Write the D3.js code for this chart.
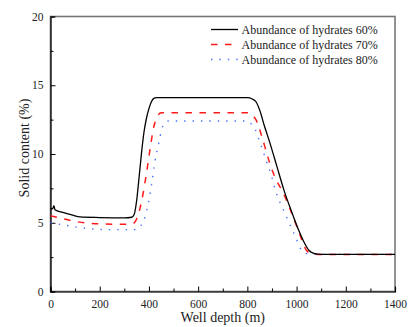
<!DOCTYPE html>
<html>
<head>
<meta charset="utf-8">
<script src="https://cdn.jsdelivr.net/npm/d3@7"></script>
<style>
  body { margin: 0; background: #fff; }
  svg text { font-family: "Times New Roman", "Liberation Serif", Times, serif !important; fill: #222; }
</style>
</head>
<body>
<div id="chart"></div>
<script>
// depth (m) / solid content (%)
const depth60 = [0, 10, 14, 18, 50, 90, 120, 200, 300, 330, 340, 350, 360, 370, 380, 390, 400, 410, 420, 430, 800, 820, 835, 850, 870, 890, 920, 950, 980, 1010, 1030, 1050, 1070, 1100, 1400];
const solid60 = [6.0, 6.05, 6.25, 5.95, 5.75, 5.55, 5.42, 5.38, 5.36, 5.4, 5.6, 6.6, 8.3, 10.1, 11.6, 12.6, 13.3, 13.8, 14.05, 14.1, 14.1, 14.0, 13.8, 13.2, 12.0, 10.9, 9.1, 7.3, 5.8, 4.4, 3.6, 3.0, 2.78, 2.7, 2.7];

const depth70 = [0, 50, 100, 150, 250, 330, 345, 360, 375, 390, 405, 420, 435, 450, 800, 820, 840, 860, 890, 910, 945, 980, 1010, 1040, 1060, 1090, 1400];
const solid70 = [5.5, 5.3, 5.1, 4.97, 4.9, 4.9, 5.1, 5.8, 7.0, 8.6, 10.4, 12.0, 12.75, 13.0, 13.0, 12.85, 12.3, 11.2, 9.4, 8.4, 7.2, 5.7, 4.3, 3.0, 2.75, 2.7, 2.7];

const depth80 = [0, 50, 100, 150, 250, 350, 365, 380, 395, 410, 425, 440, 452, 465, 480, 800, 815, 830, 850, 875, 898, 915, 950, 990, 1025, 1050, 1080, 1400];
const solid80 = [5.0, 4.85, 4.7, 4.58, 4.5, 4.5, 4.75, 5.2, 6.2, 7.7, 9.5, 10.8, 11.8, 12.25, 12.4, 12.4, 12.2, 11.85, 10.9, 9.6, 8.4, 7.3, 5.8, 4.2, 2.9, 2.72, 2.7, 2.7];

const seriesNames = ["Abundance of hydrates 60%", "Abundance of hydrates 70%", "Abundance of hydrates 80%"];
const xTicks = [0, 200, 400, 600, 800, 1000, 1200, 1400];
const yTicks = [0, 5, 10, 15, 20];

const width = 413, height = 327;
const margin = { left: 50.5, right: 18, top: 16.5, bottom: 35.5 };

const svg = d3.select("#chart").append("svg")
  .attr("width", width)
  .attr("height", height);

const x = d3.scaleLinear().domain([0, 1400]).range([margin.left, width - margin.right]);
const y = d3.scaleLinear().domain([0, 20]).range([height - margin.bottom, margin.top]);

// frame (top / right)
svg.append("rect")
  .attr("x", x(0)).attr("y", y(20))
  .attr("width", x(1400) - x(0)).attr("height", y(0) - y(20))
  .attr("fill", "none").attr("stroke", "#777").attr("stroke-width", 1.6);

// x axis, ticks inward
const xAxis = svg.append("g")
  .attr("transform", `translate(0,${y(0)})`)
  .call(d3.axisBottom(x).tickValues(d3.range(0, 1401, 100)).tickSize(-4).tickPadding(8)
    .tickFormat(d => xTicks.includes(d) ? d : ""));
xAxis.selectAll(".tick line").attr("y2", (d) => d % 200 === 0 ? -5 : -3);
xAxis.selectAll("text").attr("font-size", 11.5).attr("fill", "#222");
xAxis.select(".domain").attr("stroke", "#000").attr("stroke-width", 1.2);

// y axis, ticks inward
const yAxis = svg.append("g")
  .attr("transform", `translate(${x(0)},0)`)
  .call(d3.axisLeft(y).tickValues(d3.range(0, 20.1, 2.5)).tickSize(-4).tickPadding(7)
    .tickFormat(d => yTicks.includes(d) ? d : ""));
yAxis.selectAll(".tick line").attr("x2", (d) => d % 5 === 0 ? 5 : 3);
yAxis.selectAll("text").attr("font-size", 11.5).attr("fill", "#222");
yAxis.select(".domain").attr("stroke", "#000").attr("stroke-width", 1.2);

// axis titles
svg.append("text")
  .attr("x", (x(0) + x(1400)) / 2).attr("y", 322)
  .attr("text-anchor", "middle").attr("font-size", 14)
  .text("Well depth (m)");

svg.append("text")
  .attr("transform", `translate(29,${(y(0) + y(20)) / 2 - 6}) rotate(-90)`)
  .attr("text-anchor", "middle").attr("font-size", 14)
  .text("Solid content (%)");

// curves
const series = [
  { name: seriesNames[0], xs: depth60, ys: solid60, color: "#000", dash: null, w: 1.3 },
  { name: seriesNames[1], xs: depth70, ys: solid70, color: "#ff1a1a", dash: "6.5,7.5", w: 1.5 },
  { name: seriesNames[2], xs: depth80, ys: solid80, color: "#4a6cff", dash: "1.4,7", w: 1.4 }
];

const line = d3.line()
  .x(d => x(d[0]))
  .y(d => y(d[1]))
  .curve(d3.curveMonotoneX);

series.slice().reverse().forEach(s => {
  svg.append("path")
    .datum(s.xs.map((d, i) => [d, s.ys[i]]))
    .attr("d", line)
    .attr("fill", "none")
    .attr("stroke", s.color)
    .attr("stroke-width", s.w)
    .attr("stroke-dasharray", s.dash);
});

// legend
const legend = svg.append("g");
series.forEach((s, i) => {
  const ly = 29.5 + i * 15;
  legend.append("line")
    .attr("x1", 211).attr("x2", 238).attr("y1", ly).attr("y2", ly)
    .attr("stroke", s.color).attr("stroke-width", s.w)
    .attr("stroke-dasharray", s.dash);
  legend.append("text")
    .attr("x", 241.5).attr("y", ly).attr("dy", "0.35em")
    .attr("font-size", 12)
    .text(s.name);
});
</script>
</body>
</html>
